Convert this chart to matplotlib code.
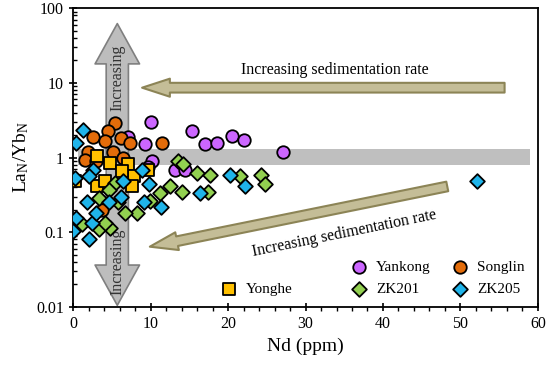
import matplotlib
matplotlib.use("Agg")
import matplotlib.pyplot as plt
from matplotlib.ticker import FixedLocator, FuncFormatter, LogLocator, MultipleLocator

plt.rcParams['font.family'] = ['Liberation Serif', 'DejaVu Serif']
plt.rcParams['mathtext.fontset'] = 'custom'
plt.rcParams['mathtext.rm'] = 'Liberation Serif'
plt.rcParams['mathtext.it'] = 'Liberation Serif:italic'

# ---- data ----
yankong_nd = [10.1, 15.3, 17.0, 18.6, 20.5, 22.0, 27.1, 9.3, 7.1, 10.2, 13.2, 14.5, 9.7]
yankong_ly = [3.03, 2.26, 1.52, 1.57, 1.97, 1.74, 1.18, 1.52, 1.91, 0.89, 0.69, 0.67, 0.75]

songlin_nd = [5.4, 4.5, 2.6, 6.2, 7.3, 4.1, 11.5, 1.9, 5.2, 1.5, 3.0, 6.5, 3.7]
songlin_ly = [2.94, 2.23, 1.91, 1.80, 1.57, 1.64, 1.57, 1.20, 1.20, 0.94, 0.90, 1.00, 0.20]

yonghe_nd = [3.06, 4.8, 7.1, 9.7, 0.26, 3.06, 4.1, 7.8, 7.6, 6.3]
yonghe_ly = [1.04, 0.85, 0.81, 0.69, 0.48, 0.41, 0.48, 0.56, 0.41, 0.66]

zk201_nd = [13.5, 14.2, 16.0, 17.7, 21.5, 24.3, 24.8, 12.5, 14.0, 17.4, 11.2, 9.9,
            8.2, 6.7, 5.4, 4.6, 3.3, 5.8, 4.8, 3.3, 1.1, 4.1]
zk201_ly = [0.89, 0.81, 0.62, 0.59, 0.56, 0.59, 0.44, 0.41, 0.35, 0.35, 0.34, 0.26,
            0.18, 0.18, 0.46, 0.37, 0.29, 0.25, 0.114, 0.109, 0.127, 0.134]

zk205_nd = [1.33, 0.35, 2.6, 2.0, 0.26, 8.9, 6.5, 9.8, 1.8, 4.6, 6.2, 9.1, 11.4,
            0.4, 2.4, 0.0, 2.0, 20.3, 22.2, 16.4, 52.1, 3.0]
zk205_ly = [2.32, 1.57, 0.69, 0.56, 0.53, 0.69, 0.48, 0.44, 0.25, 0.25, 0.30, 0.25, 0.22,
            0.156, 0.134, 0.103, 0.080, 0.59, 0.41, 0.34, 0.48, 0.18]

band_nd = [0.6, 59.0]
band_ly = [0.8, 1.3]

y_ticks = [0.01, 0.1, 1, 10, 100]

fig = plt.figure(figsize=(5.5, 3.68), dpi=100)
ax = fig.add_axes([0.133, 0.166, 0.845, 0.812])
ax.set_yscale('log')
ax.set_xlim(0, 60)
ax.set_ylim(0.01, 100)

# gray band
ax.fill_between(band_nd, band_ly[0], band_ly[1], color='#bfbfbf', lw=0, zorder=1)

# vertical gray double arrow
gprops = dict(arrowstyle='simple,head_length=29,head_width=32,tail_width=16',
              mutation_scale=1, fc='#bdbdbd', ec='#7f7f7f', lw=1.2, shrinkA=0, shrinkB=0)
ax.annotate('', xy=(5.7, 62), xytext=(5.7, 1.0), arrowprops=gprops, zorder=2)
ax.annotate('', xy=(5.7, 0.0105), xytext=(5.7, 1.0), arrowprops=gprops, zorder=2)
ax.text(5.75, 11.5, 'Increasing', rotation=90, ha='center', va='center', fontsize=11.5, color='#333333', zorder=2.5)
ax.text(5.75, 0.040, 'Increasing', rotation=90, ha='center', va='center', fontsize=11.5, color='#333333', zorder=2.5)

# khaki arrows
kprops = dict(arrowstyle='simple,head_length=20,head_width=13,tail_width=7',
              mutation_scale=1, fc='#c4bd97', ec='#8c8456', lw=1.5, shrinkA=0, shrinkB=0)
ax.annotate('', xy=(8.9, 8.6), xytext=(55.7, 8.6), arrowprops=kprops, zorder=2)
ax.annotate('', xy=(9.9, 0.064), xytext=(48.3, 0.41), arrowprops=kprops, zorder=2)
ax.text(33.8, 15, 'Increasing sedimentation rate', ha='center', va='center', fontsize=11.5)
ax.text(35.0, 0.097, 'Increasing sedimentation rate', ha='center', va='center', fontsize=11.5,
        rotation=11.5, rotation_mode='anchor')

# scatter series
ax.scatter(yankong_nd, yankong_ly, s=81, marker='o', c='#cc66ff', edgecolors='black', linewidths=1.3, zorder=3, label='Yankong')
ax.scatter(songlin_nd, songlin_ly, s=81, marker='o', c='#e36c0a', edgecolors='black', linewidths=1.3, zorder=3, label='Songlin')
ax.scatter(yonghe_nd, yonghe_ly, s=72, marker='s', c='#ffc000', edgecolors='black', linewidths=1.3, zorder=3, label='Yonghe')
ax.scatter(zk201_nd, zk201_ly, s=56, marker='D', c='#92d050', edgecolors='black', linewidths=1.3, zorder=3, label='ZK201')
ax.scatter(zk205_nd, zk205_ly, s=56, marker='D', c='#1fb4ea', edgecolors='black', linewidths=1.3, zorder=3, label='ZK205')

# legends
h, l = ax.get_legend_handles_labels()
leg_kw = dict(frameon=False, fontsize=11, handletextpad=0.5, labelspacing=0.55,
              handlelength=1.2, scatterpoints=1, borderpad=0, borderaxespad=0)
leg1 = ax.legend([h[0], h[3], h[1], h[4]], [l[0], l[3], l[1], l[4]], ncol=2,
                 loc='lower right', bbox_to_anchor=(0.972, 0.035), columnspacing=1.35, **leg_kw)
ax.add_artist(leg1)
ax.legend([h[2]], [l[2]], loc='lower left', bbox_to_anchor=(0.316, 0.035), **leg_kw)

# axes styling
ax.xaxis.set_major_locator(MultipleLocator(10))
ax.xaxis.set_minor_locator(MultipleLocator(2))
ax.yaxis.set_major_locator(FixedLocator(y_ticks))
ax.yaxis.set_minor_locator(LogLocator(base=10, subs=range(2, 10)))
ax.yaxis.set_major_formatter(FuncFormatter(lambda v, p: '{:g}'.format(v)))
ax.tick_params(axis='both', which='major', labelsize=11.5, width=1.2, length=6, direction='inout')
ax.tick_params(axis='both', which='minor', width=1, length=3, direction='in')
ax.tick_params(axis='x', which='minor', direction='out')
for s in ax.spines.values():
    s.set_linewidth(1.3)
ax.set_xlabel('Nd (ppm)', fontsize=14, labelpad=4)
ax.set_ylabel('La$_\\mathrm{N}$/Yb$_\\mathrm{N}$', fontsize=14, labelpad=4)

fig.savefig('out.png', dpi=100)
